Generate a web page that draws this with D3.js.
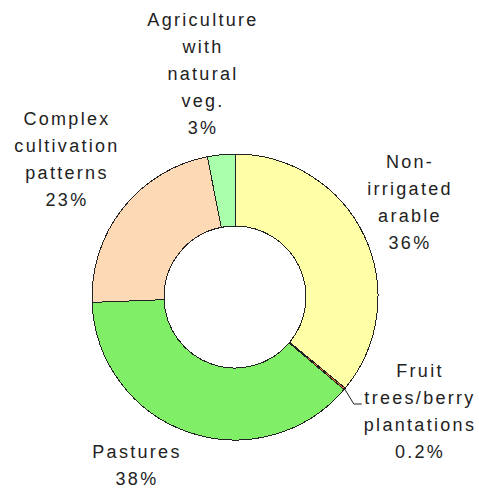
<!DOCTYPE html>
<html>
<head>
<meta charset="utf-8">
<script src="https://cdn.jsdelivr.net/npm/d3@7"></script>
<style>
  body { margin: 0; background: #fff; }
  svg { display: block; }
  .lbl { font-family: "Liberation Sans", Arial, sans-serif; font-size: 18px; letter-spacing: 2.3px; fill: #222; }
</style>
</head>
<body>
<div id="chart"></div>
<script>
//-- DATA
var categories = ['Non-irrigated arable', 'Fruit trees/berry plantations', 'Pastures', 'Complex cultivation patterns', 'Agriculture with natural veg.'];
var shares = [36.0, 0.2, 38.2, 22.5, 3.1];
var shareLabels = ['36%', '0.2%', '38%', '23%', '3%'];
var labelLines = [
  ['Non-', 'irrigated', 'arable'],
  ['Fruit', 'trees/berry', 'plantations'],
  ['Pastures'],
  ['Complex', 'cultivation', 'patterns'],
  ['Agriculture', 'with', 'natural', 'veg.']
];

//-- STYLE / LAYOUT
var colors = ['#ffffa8', '#ff8040', '#80ee66', '#fdd9b5', '#aaffaa'];
var width = 479, height = 490;
var cx = 235, cy = 297, rOuter = 143, rInner = 71;
var lineH = 27;
// centre x and first baseline of each label block
var labelPos = [[410, 168], [420, 377], [137, 458], [67, 125], [203, 26]];

var svg = d3.select('#chart').append('svg')
  .attr('width', width)
  .attr('height', height);

var g = svg.append('g')
  .attr('transform', 'translate(' + cx + ',' + cy + ')');

var pie = d3.pie().sort(null).value(function(d) { return d; });
var arc = d3.arc().innerRadius(rInner).outerRadius(rOuter);
var arcs = pie(shares);

g.selectAll('path.slice')
  .data(arcs)
  .enter().append('path')
  .attr('class', 'slice')
  .attr('d', arc)
  .attr('fill', function(d, i) { return colors[i]; })
  .attr('stroke', '#222')
  .attr('stroke-width', 1)
  .attr('shape-rendering', 'crispEdges');

//-- LABELS
var labels = svg.selectAll('text.lbl')
  .data(categories)
  .enter().append('text')
  .attr('class', 'lbl')
  .attr('text-anchor', 'middle')
  .attr('x', function(d, i) { return labelPos[i][0]; })
  .attr('y', function(d, i) { return labelPos[i][1]; });

labels.each(function(d, i) {
  var t = d3.select(this);
  var lines = labelLines[i].concat([shareLabels[i]]);
  lines.forEach(function(s, k) {
    t.append('tspan')
      .attr('x', labelPos[i][0])
      .attr('dy', k === 0 ? 0 : lineH)
      .text(s);
  });
});

//-- LEADER LINE FOR THIN SLICE
var a = arcs[1];
var mid = (a.startAngle + a.endAngle) / 2;
var p0 = [cx + Math.sin(mid) * rOuter, cy - Math.cos(mid) * rOuter];
var lbBox = labels.nodes()[1].getBBox();
var bend = [lbBox.x - 10, labelPos[1][1] + lineH];
var end = [lbBox.x - 2, bend[1]];
svg.append('path')
  .attr('d', d3.line()([p0, bend, end]))
  .attr('fill', 'none')
  .attr('stroke', '#222')
  .attr('stroke-width', 1);
</script>
</body>
</html>
